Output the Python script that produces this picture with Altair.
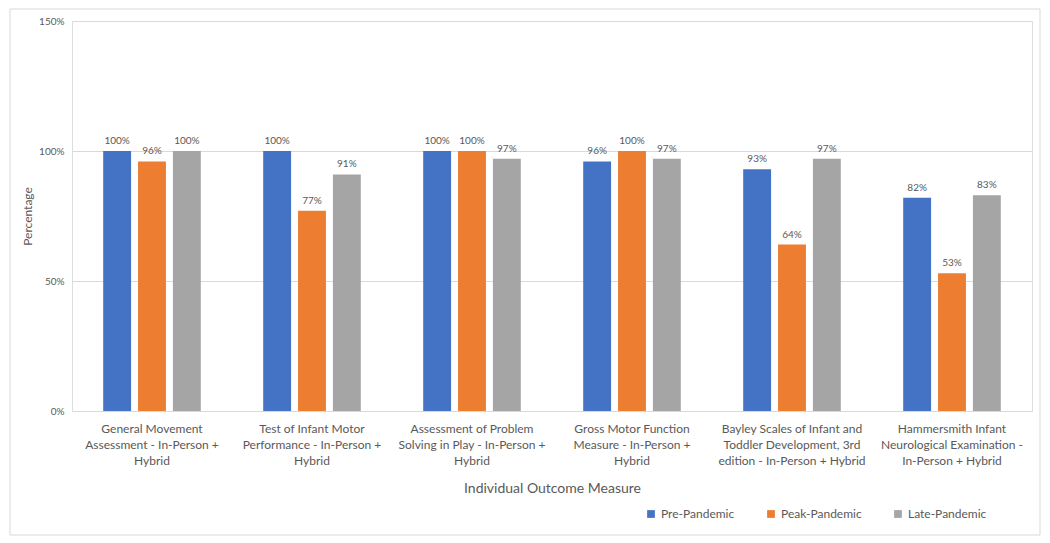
import altair as alt
import pandas as pd

categories = [
    "General Movement|Assessment - In-Person +|Hybrid",
    "Test of Infant Motor|Performance - In-Person +|Hybrid",
    "Assessment of Problem|Solving in Play - In-Person +|Hybrid",
    "Gross Motor Function|Measure - In-Person +|Hybrid",
    "Bayley Scales of Infant and|Toddler Development, 3rd|edition - In-Person + Hybrid",
    "Hammersmith Infant|Neurological Examination  -|In-Person + Hybrid",
]
series = ["Pre-Pandemic", "Peak-Pandemic", "Late-Pandemic"]
pre = [100, 100, 100, 96, 93, 82]
peak = [96, 77, 100, 100, 64, 53]
late = [100, 91, 97, 97, 97, 83]
colors = ["#4472C4", "#ED7D31", "#A5A5A5"]

rows = []
for s, vals in zip(series, [pre, peak, late]):
    for c, v in zip(categories, vals):
        rows.append({"measure": c, "period": s, "value": v, "label": f"{v}%"})
df = pd.DataFrame(rows)

FONT = "Lato"
GREY = "#595959"

x = alt.X("measure:N", sort=categories,
          scale=alt.Scale(paddingInner=0.39, paddingOuter=0.195),
          axis=alt.Axis(title="Individual Outcome Measure", labelAngle=0,
                        labelExpr="split(datum.value, '|')", labelFontSize=12,
                        labelColor=GREY, labelFont=FONT, labelLineHeight=16,
                        labelPadding=12, ticks=False, domainColor="#d9d9d9",
                        titleFont=FONT, titleFontSize=14, titleColor=GREY,
                        titleFontWeight="normal", titlePadding=15,
                        labelLimit=300))
xo = alt.XOffset("period:N", sort=series, scale=alt.Scale(paddingInner=0.2))
y = alt.Y("value:Q", scale=alt.Scale(domain=[0, 150]),
          axis=alt.Axis(title="Percentage", values=[0, 50, 100, 150],
                        labelExpr="datum.value + '%'", labelFontSize=10,
                        labelColor=GREY, labelFont=FONT, ticks=False, domain=False,
                        gridColor="#d9d9d9", titleFont=FONT, titleFontSize=12,
                        titleColor=GREY, titleFontWeight="normal", titlePadding=4,
                        labelPadding=8))
color = alt.Color("period:N", sort=series,
                  scale=alt.Scale(domain=series, range=colors),
                  legend=alt.Legend(title=None, orient="none", direction="horizontal",
                                    legendX=573, legendY=487, symbolType="square",
                                    symbolSize=60, symbolStrokeWidth=0,
                                    labelFont=FONT, labelFontSize=12, labelColor=GREY,
                                    columnPadding=30, symbolOpacity=1))

base = alt.Chart(df)
bars = base.mark_bar(opacity=1).encode(x=x, xOffset=xo, y=y, color=color)
text = base.mark_text(baseline="bottom", dy=-5, fontSize=10, font=FONT, color=GREY).encode(
    x=x, xOffset=xo, y=y, text="label:N")

frame = alt.Chart(pd.DataFrame({"a": [0]})).mark_rect(
    fill=None, stroke="#d9d9d9", strokeWidth=1, clip=False).encode(
    x=alt.value(-62), x2=alt.value(968), y=alt.value(-12), y2=alt.value(514))

chart = alt.layer(bars, text, frame).properties(
    width=960, height=390,
    autosize=alt.AutoSizeParams(type="none"),
    padding={"left": 64, "top": 13, "right": 10, "bottom": 128},
).configure_view(stroke=None).configure(background="white")

chart.save("out.html", embed_options={"renderer": "svg", "actions": False})
